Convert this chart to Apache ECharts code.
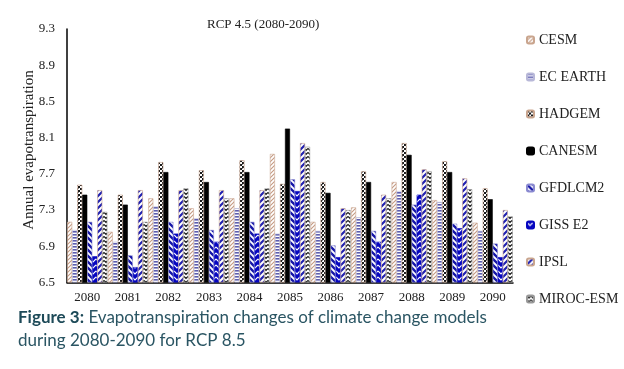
<!DOCTYPE html>
<html><head><meta charset="utf-8">
<script src="https://cdn.jsdelivr.net/npm/echarts@6/dist/echarts.min.js"></script>
<style>html,body{margin:0;padding:0;background:#fff}#c{width:624px;height:369px}</style>
</head><body><div id="c"></div>
<script>
const years = ['2080','2081','2082','2083','2084','2085','2086','2087','2088','2089','2090'];
const models = ['CESM','EC EARTH','HADGEM','CANESM','GFDLCM2','GISS E2','IPSL','MIROC-ESM'];
const cesm    = [7.17, 7.06, 7.43, 7.32, 7.43, 7.92, 7.17, 7.33, 7.61, 7.41, 7.16];
const ecEarth = [7.08, 6.95, 7.34, 7.21, 7.32, 7.04, 7.07, 7.22, 7.51, 7.39, 7.07];
const hadgem  = [7.58, 7.47, 7.83, 7.74, 7.85, 7.59, 7.61, 7.73, 8.04, 7.84, 7.54];
const canesm  = [7.47, 7.36, 7.72, 7.61, 7.72, 8.20, 7.49, 7.61, 7.91, 7.72, 7.42];
const gfdlcm2 = [7.17, 6.80, 7.17, 7.08, 7.17, 7.64, 6.91, 7.07, 7.36, 7.15, 6.93];
const gissE2  = [6.79, 6.67, 7.04, 6.95, 7.04, 7.51, 6.78, 6.95, 7.47, 7.10, 6.78];
const ipsl    = [7.52, 7.52, 7.52, 7.52, 7.52, 8.04, 7.32, 7.47, 7.75, 7.65, 7.30];
const miroc   = [7.28, 7.17, 7.54, 7.43, 7.54, 8.00, 7.30, 7.43, 7.73, 7.53, 7.23];
const yTickLabels = ['6.5','6.9','7.3','7.7','8.1','8.5','8.9','9.3'];
const yBase = 6.5, yStep = 0.4;

function pat(w, h, bg, draw) {
  const c = document.createElement('canvas'); c.width = w; c.height = h;
  const g = c.getContext('2d'); g.fillStyle = bg; g.fillRect(0, 0, w, h); draw(g);
  return { image: c, repeat: 'repeat' };
}
function lines(g, color, lw, segs) {
  g.strokeStyle = color; g.lineWidth = lw; g.beginPath();
  segs.forEach(s => { g.moveTo(s[0], s[1]); for (let i = 2; i < s.length; i += 2) g.lineTo(s[i], s[i+1]); });
  g.stroke();
}
const fills = [
  pat(4, 4, '#fff', g => lines(g, '#c49a82', 1.1, [[0,4,4,0],[-1,1,1,-1],[3,5,5,3]])),
  pat(4, 3, '#fff', g => { g.fillStyle = '#5c5cae'; g.fillRect(0, 0, 4, 1.6); }),
  pat(4, 4, '#fff', g => { g.fillStyle = '#1a1a1a'; g.fillRect(0, 0, 2, 2); g.fillRect(2, 2, 2, 2); g.fillStyle='#888'; g.fillRect(2,0,1,1); }),
  '#000000',
  pat(6, 6, '#fff', g => lines(g, '#1414a8', 2.3, [[0,0,6,6],[-3,3,3,9],[3,-3,9,3]])),
  pat(6, 6, '#0606c0', g => lines(g, '#ffffff', 1.1, [[0,1,3,4,6,1]])),
  pat(6, 6, '#fff', g => lines(g, '#2020b0', 2.2, [[0,6,6,0],[-3,3,3,-3],[3,9,9,3]])),
  pat(4, 4, '#fff', g => lines(g, '#111', 1.2, [[0,0.5,2,2.5,4,0.5]]))
];
const borders = ['#c9a58e', '#b8b8d8', '#c9a58e', '#000', '#8a8ad0', '#0606c0', '#c9a58e', '#999'];
const seriesValues = [cesm, ecEarth, hadgem, canesm, gfdlcm2, gissE2, ipsl, miroc];

const chart = echarts.init(document.getElementById('c'), null, { renderer: 'canvas' });
const serif = 'Liberation Serif';
chart.setOption({
  animation: false,
  backgroundColor: '#fff',
  title: { text: 'RCP 4.5 (2080-2090)', left: 207, top: 18, padding: 0,
    textStyle: { fontFamily: serif, fontSize: 13, fontWeight: 'normal', color: '#222' } },
  legend: { orient: 'vertical', left: 526, top: 33, padding: 0, itemWidth: 7, itemHeight: 7, itemGap: 23,
    textStyle: { fontFamily: serif, fontSize: 14, color: '#222' }, data: models },
  grid: { left: 67, right: 111, top: 29, bottom: 86.5, containLabel: false, outerBoundsMode: 'none' },
  xAxis: { type: 'category', data: years,
    axisLine: { lineStyle: { color: '#000', width: 1.5 } }, axisTick: { show: false },
    axisLabel: { fontFamily: serif, fontSize: 13, color: '#222', margin: 9 } },
  yAxis: { type: 'value', min: 0, max: (yTickLabels.length - 1) * yStep, interval: yStep,
    axisLine: { show: true, lineStyle: { color: '#000', width: 1.5 } }, axisTick: { show: false },
    splitLine: { show: false },
    axisLabel: { fontFamily: serif, fontSize: 13, color: '#222', margin: 12,
      formatter: v => yTickLabels[Math.round(v / yStep)] } },
  series: models.map((m, i) => ({
    name: m, type: 'bar', barGap: '0%', barCategoryGap: '1%',
    itemStyle: { color: fills[i], borderColor: borders[i], borderWidth: 0.6 },
    data: seriesValues[i].map(v => +(v - yBase).toFixed(3))
  })),
  graphic: [
    { type: 'text', x: 29, y: 150, rotation: Math.PI / 2,
      style: { text: 'Annual evapotranspiration', font: '15px "Liberation Serif"', fill: '#222',
        textAlign: 'center', textVerticalAlign: 'middle' } },
    { type: 'text', left: 18, top: 309,
      style: { text: '{b|Figure 3:} Evapotranspiration changes of climate change models',
        font: '17px Lato', fill: '#2a5563',
        rich: { b: { fontWeight: 'bold', fontSize: 17, fontFamily: 'Lato', fill: '#1d4a58' } } } },
    { type: 'text', left: 18, top: 332,
      style: { text: 'during 2080-2090 for RCP 8.5', font: '17px Lato', fill: '#2a5563' } }
  ]
});
</script></body></html>
